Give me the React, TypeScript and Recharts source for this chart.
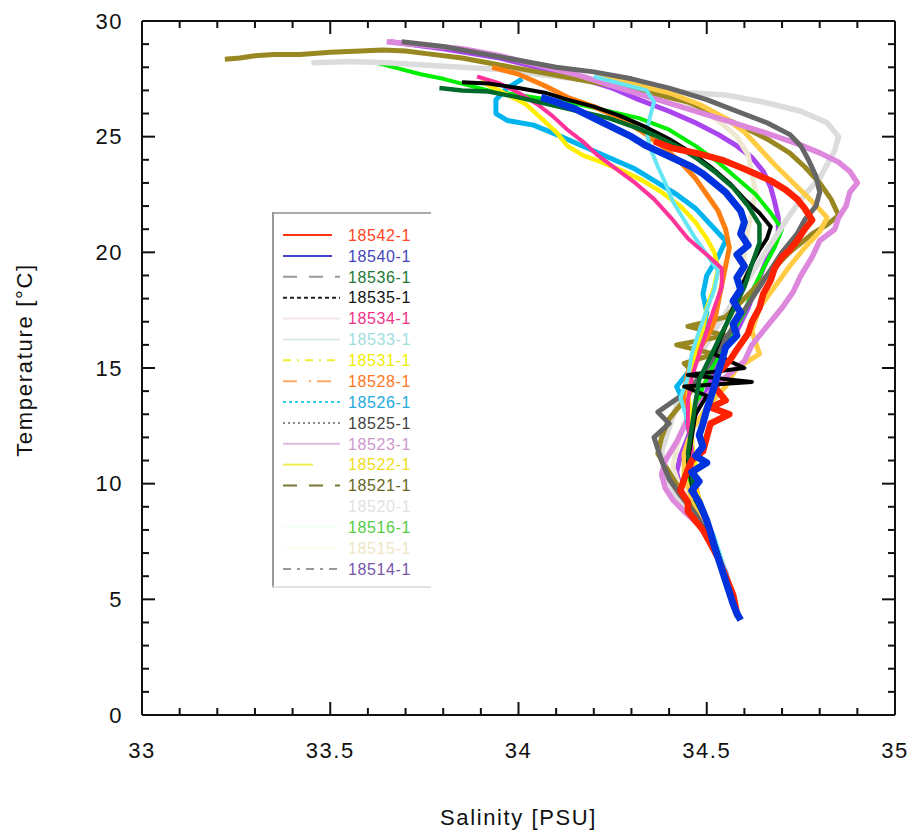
import React from 'react';
import { LineChart, Line, XAxis, YAxis, Legend } from 'recharts';

type P = [number, number];

// Salinity [PSU], Temperature [°C] pairs, surface to depth
const s18542: P[] = [[34.36,24.8],[34.41,24.5],[34.47,24.3],[34.54,24.0],[34.60,23.6],[34.67,23.1],[34.71,22.7],[34.74,22.3],[34.76,21.9],[34.78,21.4],[34.76,21.0],[34.74,20.5],[34.72,20.1],[34.70,19.8],[34.68,19.3],[34.67,18.8],[34.65,18.2],[34.64,17.6],[34.62,17.0],[34.61,16.5],[34.58,15.8],[34.56,15.3],[34.53,14.8],[34.52,14.2],[34.55,13.6],[34.51,13.3],[34.56,13.0],[34.51,12.6],[34.50,12.0],[34.49,11.4],[34.46,11.0],[34.45,10.6],[34.44,10.2],[34.43,9.7],[34.45,9.2],[34.45,8.8],[34.47,8.4],[34.49,8.0],[34.51,7.4],[34.53,6.8],[34.55,6.0],[34.57,5.2],[34.58,4.4]];
const s18540: P[] = [[34.06,26.7],[34.10,26.5],[34.15,26.2],[34.20,25.8],[34.25,25.4],[34.30,25.0],[34.34,24.6],[34.38,24.3],[34.42,24.0],[34.46,23.7],[34.49,23.4],[34.52,23.0],[34.55,22.6],[34.57,22.2],[34.59,21.8],[34.60,21.3],[34.59,20.8],[34.61,20.3],[34.58,19.9],[34.60,19.4],[34.58,18.9],[34.59,18.4],[34.57,17.9],[34.59,17.4],[34.57,16.9],[34.58,16.4],[34.55,15.9],[34.54,15.3],[34.53,14.8],[34.52,14.2],[34.51,13.7],[34.50,13.2],[34.49,12.6],[34.48,12.1],[34.49,11.6],[34.47,11.2],[34.50,10.9],[34.46,10.5],[34.48,10.1],[34.46,9.7],[34.48,9.2],[34.49,8.8],[34.50,8.4],[34.51,7.9],[34.52,7.3],[34.53,6.8],[34.54,6.3],[34.55,5.8],[34.56,5.3],[34.57,4.8],[34.58,4.4],[34.59,4.1]];
const s18536: P[] = [[33.79,27.1],[33.85,27.0],[33.92,26.95],[34.00,26.7],[34.08,26.4],[34.16,26.1],[34.24,25.8],[34.31,25.4],[34.37,25.0],[34.42,24.6],[34.47,24.1],[34.52,23.5],[34.57,22.8],[34.61,22.0],[34.64,21.2],[34.64,20.4],[34.62,19.5],[34.60,18.5],[34.57,17.5],[34.54,16.5],[34.51,15.5],[34.48,14.5],[34.47,13.5],[34.46,12.4],[34.45,11.3],[34.46,10.3],[34.47,9.3],[34.50,8.4],[34.52,7.4],[34.54,6.4],[34.56,5.4],[34.58,4.3]];
const s18535: P[] = [[33.85,27.35],[33.92,27.3],[34.00,27.1],[34.07,26.9],[34.13,26.6],[34.20,26.3],[34.27,25.9],[34.34,25.4],[34.40,24.9],[34.46,24.3],[34.51,23.7],[34.56,23.0],[34.60,22.3],[34.64,21.7],[34.67,21.1],[34.66,20.6],[34.64,20.1],[34.62,19.5],[34.60,18.8],[34.58,18.0],[34.56,17.2],[34.54,16.4],[34.52,15.6],[34.60,15.0],[34.45,14.7],[34.62,14.4],[34.44,14.2],[34.50,13.8],[34.47,13.0],[34.46,12.0],[34.45,11.0],[34.46,10.0],[34.48,9.0],[34.51,8.0],[34.53,7.0],[34.55,6.0],[34.57,5.0],[34.58,4.3]];
const s18534: P[] = [[33.89,27.6],[33.95,27.3],[34.00,26.9],[34.05,26.4],[34.09,25.9],[34.13,25.3],[34.17,24.8],[34.21,24.2],[34.26,23.6],[34.31,23.0],[34.36,22.3],[34.41,21.4],[34.45,20.6],[34.50,19.9],[34.54,19.3],[34.54,18.5],[34.52,17.6],[34.50,16.6],[34.48,15.6],[34.46,14.6],[34.45,13.6],[34.45,12.5],[34.46,11.5],[34.46,10.5],[34.47,9.6],[34.49,8.7],[34.51,7.8],[34.53,6.8],[34.55,5.8],[34.57,4.8],[34.58,4.3]];
const s18533: P[] = [[34.20,27.6],[34.27,27.3],[34.34,27.0],[34.36,26.5],[34.35,25.9],[34.34,25.2],[34.35,24.5],[34.37,23.7],[34.39,23.0],[34.41,22.2],[34.44,21.4],[34.47,20.6],[34.50,19.9],[34.53,19.2],[34.52,18.4],[34.50,17.5],[34.48,16.6],[34.46,15.6],[34.45,14.6],[34.43,13.7],[34.45,12.7],[34.46,11.6],[34.46,10.5],[34.47,9.6],[34.49,8.7],[34.52,7.7],[34.54,6.7],[34.56,5.7],[34.58,4.5]];
const s18531: P[] = [[33.90,27.4],[33.96,26.9],[34.02,26.4],[34.06,25.8],[34.10,25.2],[34.13,24.6],[34.17,24.2],[34.22,23.9],[34.28,23.5],[34.33,23.1],[34.38,22.6],[34.43,22.0],[34.47,21.3],[34.50,20.6],[34.52,20.0],[34.53,19.3],[34.52,18.5],[34.50,17.6],[34.49,16.7],[34.47,15.8],[34.46,14.8],[34.45,13.8],[34.46,12.8],[34.46,11.8],[34.47,10.8],[34.47,9.8],[34.49,8.9],[34.51,7.9],[34.53,6.9],[34.55,5.9],[34.57,4.9],[34.58,4.3]];
const s18528: P[] = [[33.93,28.0],[34.00,27.7],[34.07,27.2],[34.13,26.7],[34.20,26.3],[34.27,25.8],[34.33,25.2],[34.38,24.6],[34.43,23.9],[34.47,23.2],[34.50,22.5],[34.53,21.8],[34.55,21.0],[34.56,20.2],[34.55,19.4],[34.54,18.6],[34.53,17.8],[34.52,17.0],[34.50,16.3],[34.47,15.6],[34.45,14.8],[34.44,14.0],[34.45,13.0],[34.46,12.0],[34.46,11.0],[34.47,10.0],[34.48,9.2],[34.50,8.3],[34.52,7.4],[34.54,6.4],[34.56,5.4],[34.58,4.3]];
const s18526: P[] = [[34.01,27.5],[33.97,27.1],[33.94,26.6],[33.94,26.0],[33.97,25.7],[34.04,25.5],[34.10,25.1],[34.17,24.6],[34.24,24.1],[34.31,23.6],[34.37,23.0],[34.42,22.5],[34.47,21.9],[34.51,21.2],[34.55,20.5],[34.53,19.8],[34.50,19.0],[34.49,18.2],[34.50,17.4],[34.49,16.6],[34.47,15.8],[34.46,15.0],[34.42,14.2],[34.44,13.5],[34.45,12.6],[34.46,11.6],[34.46,10.6],[34.47,9.7],[34.49,8.8],[34.51,7.9],[34.53,6.9],[34.55,5.9],[34.57,4.9],[34.58,4.3]];
const s18525: P[] = [[33.69,29.1],[33.80,28.9],[33.90,28.6],[34.00,28.3],[34.10,28.0],[34.20,27.8],[34.30,27.5],[34.40,27.1],[34.50,26.6],[34.58,26.1],[34.66,25.6],[34.72,25.1],[34.75,24.6],[34.77,24.0],[34.79,23.3],[34.80,22.6],[34.79,22.0],[34.76,21.4],[34.74,20.8],[34.70,20.0],[34.66,19.0],[34.62,18.0],[34.58,17.0],[34.54,16.0],[34.50,15.0],[34.45,14.0],[34.37,13.1],[34.40,12.6],[34.36,12.0],[34.38,11.0],[34.40,10.2],[34.43,9.5],[34.47,8.7],[34.51,7.6],[34.54,6.5],[34.56,5.5],[34.58,4.4]];
const s18523: P[] = [[33.65,29.1],[33.75,28.95],[33.85,28.8],[33.95,28.5],[34.05,28.1],[34.15,27.7],[34.25,27.2],[34.35,26.7],[34.45,26.2],[34.55,25.7],[34.65,25.2],[34.74,24.7],[34.80,24.3],[34.85,23.9],[34.88,23.5],[34.90,23.0],[34.88,22.6],[34.87,22.0],[34.85,21.5],[34.84,21.0],[34.80,20.5],[34.78,19.8],[34.75,19.0],[34.73,18.3],[34.70,17.6],[34.66,16.8],[34.62,16.0],[34.60,15.3],[34.55,14.6],[34.50,13.8],[34.45,12.8],[34.42,11.8],[34.39,11.0],[34.38,10.4],[34.39,9.8],[34.41,9.3],[34.44,8.8],[34.48,8.2],[34.51,7.5],[34.53,6.8],[34.55,6.0],[34.57,5.0],[34.58,4.3]];
const s18522: P[] = [[34.20,27.6],[34.30,27.3],[34.40,26.9],[34.48,26.4],[34.55,25.8],[34.60,25.2],[34.64,24.5],[34.68,23.8],[34.73,23.0],[34.78,22.2],[34.82,21.5],[34.80,20.9],[34.76,20.2],[34.72,19.4],[34.68,18.5],[34.64,17.6],[34.62,16.6],[34.64,15.6],[34.58,15.0],[34.55,14.2],[34.50,13.3],[34.46,12.3],[34.44,11.3],[34.44,10.3],[34.46,9.4],[34.49,8.5],[34.52,7.5],[34.54,6.5],[34.56,5.5],[34.58,4.3]];
const s18521: P[] = [[33.22,28.35],[33.26,28.4],[33.30,28.5],[33.35,28.55],[33.42,28.55],[33.50,28.65],[33.58,28.7],[33.64,28.75],[33.70,28.7],[33.75,28.6],[33.85,28.4],[33.95,28.1],[34.05,27.8],[34.15,27.5],[34.25,27.2],[34.35,26.9],[34.45,26.5],[34.52,26.0],[34.60,25.4],[34.66,24.9],[34.72,24.3],[34.76,23.7],[34.80,23.0],[34.83,22.3],[34.85,21.6],[34.82,21.2],[34.78,20.8],[34.72,20.0],[34.66,19.0],[34.60,18.0],[34.55,17.2],[34.45,16.8],[34.55,16.4],[34.42,16.0],[34.52,15.6],[34.44,15.2],[34.48,14.6],[34.45,13.8],[34.40,12.8],[34.38,12.0],[34.37,11.3],[34.40,10.5],[34.43,9.7],[34.46,9.0],[34.50,8.0],[34.53,7.0],[34.55,6.0],[34.57,5.0],[34.58,4.3]];
const s18520: P[] = [[33.45,28.2],[33.55,28.25],[33.65,28.2],[33.75,28.1],[33.85,28.0],[33.95,27.9],[34.05,27.7],[34.15,27.5],[34.25,27.3],[34.35,27.1],[34.45,26.9],[34.55,26.8],[34.65,26.5],[34.75,26.1],[34.82,25.6],[34.85,25.0],[34.84,24.4],[34.82,23.8],[34.80,23.2],[34.76,22.5],[34.72,21.6],[34.68,20.6],[34.64,19.6],[34.60,18.6],[34.56,17.6],[34.52,16.6],[34.48,15.5],[34.45,14.4],[34.42,13.4],[34.40,12.4],[34.38,11.4],[34.39,10.5],[34.41,9.7],[34.44,9.0],[34.48,8.2],[34.51,7.4],[34.54,6.4],[34.56,5.4],[34.58,4.2]];
const s18516: P[] = [[33.62,28.2],[33.68,27.95],[33.74,27.7],[33.80,27.5],[33.86,27.25],[33.92,27.0],[34.00,26.8],[34.08,26.6],[34.16,26.4],[34.24,26.1],[34.32,25.8],[34.40,25.3],[34.47,24.6],[34.53,23.9],[34.58,23.2],[34.63,22.5],[34.67,21.7],[34.70,21.0],[34.68,20.2],[34.65,19.3],[34.62,18.3],[34.60,17.4],[34.56,16.3],[34.52,15.2],[34.49,14.2],[34.47,13.2],[34.46,12.2],[34.44,11.2],[34.45,10.2],[34.46,9.4],[34.49,8.5],[34.52,7.5],[34.54,6.5],[34.56,5.5],[34.58,4.4]];
const s18515: P[] = [[34.25,27.5],[34.32,27.2],[34.40,26.8],[34.47,26.3],[34.53,25.7],[34.58,25.0],[34.61,24.2],[34.62,23.4],[34.63,22.6],[34.62,21.8],[34.61,21.0],[34.60,20.2],[34.60,19.3],[34.59,18.4],[34.58,17.5],[34.56,16.6],[34.53,15.6],[34.50,14.6],[34.47,13.6],[34.44,12.6],[34.42,11.6],[34.41,10.7],[34.43,9.8],[34.46,9.0],[34.50,8.0],[34.53,7.0],[34.55,6.0],[34.57,5.0],[34.58,4.3]];
const s18514: P[] = [[33.66,29.1],[33.80,28.8],[33.95,28.4],[34.05,28.0],[34.15,27.6],[34.25,27.1],[34.32,26.6],[34.40,26.1],[34.47,25.6],[34.53,25.1],[34.58,24.6],[34.62,24.1],[34.65,23.5],[34.67,22.8],[34.68,22.2],[34.69,21.5],[34.69,20.8],[34.67,20.1],[34.65,19.3],[34.63,18.5],[34.61,17.6],[34.58,16.6],[34.55,15.8],[34.52,15.0],[34.50,14.0],[34.47,13.0],[34.45,12.0],[34.43,11.2],[34.42,10.5],[34.43,9.8],[34.46,9.0],[34.49,8.2],[34.52,7.2],[34.55,6.2],[34.57,5.0],[34.58,4.3]];

const names = ['18542-1','18540-1','18536-1','18535-1','18534-1','18533-1','18531-1','18528-1','18526-1','18525-1','18523-1','18522-1','18521-1','18520-1','18516-1','18515-1','18514-1'];
const profiles: P[][] = [s18542,s18540,s18536,s18535,s18534,s18533,s18531,s18528,s18526,s18525,s18523,s18522,s18521,s18520,s18516,s18515,s18514];
const plotColors = ['#ff2200','#0033dd','#006a2a','#000000','#ff3399','#66e6f5','#ffee00','#ff8010','#00b4ee','#666666','#dd88dd','#ffcc44','#998822','#dcdcdc','#00ee00','#eee8d0','#aa44ee'];
const textColors = ['#ff4422','#4444bb','#227733','#111111','#ee3388','#a0dede','#eeee00','#ff7722','#22aadd','#444444','#cc99cc','#eedd22','#666622','#e2e2e2','#55cc44','#eee6c6','#7755aa'];
const legendStrokes = ['#ff3311','#4444cc','#999999','#222222','#f4e8ee','#dde8ea','#eeee33','#ffaa66','#33ccee','#888888','#ddbbdd','#eeee55','#777733','#ffffff','#f4fff4','#fffcf2','#999999'];
const legendDashes = ['', '', '14 12', '4 3', '', '', '8 6 2 6', '14 12 2 6', '3 3', '2 3', '', '30 40', '14 12', '', '', '', '8 6 3 6'];
const widths = [6.5, 7, 4.5, 4, 4, 4, 4.5, 5, 5, 5, 5.5, 5, 5, 5.5, 4, 5, 5];

const xTicks = [33,33.1,33.2,33.3,33.4,33.5,33.6,33.7,33.8,33.9,34,34.1,34.2,34.3,34.4,34.5,34.6,34.7,34.8,34.9,35];
const yTicks = [0,1,2,3,4,5,6,7,8,9,10,11,12,13,14,15,16,17,18,19,20,21,22,23,24,25,26,27,28,29,30];

const FONT = '"Liberation Sans", Arial, Helvetica, sans-serif';
const INK = '#111';
const X_MARGIN = 27;
const Y_MARGIN = 19;

const isMajor = (v: number, step: number) => Math.abs(v / step - Math.round(v / step)) < 1e-6;

const BottomTick = (props: any) => {
  const { x, y, payload } = props;
  const v = payload.value;
  const major = isMajor(v, 0.5);
  const y0 = y - X_MARGIN;
  return (
    <g>
      <line x1={x} x2={x} y1={y0} y2={y0 - (major ? 13 : 7)} stroke={INK} strokeWidth={2} />
      {major && (
        <text x={x} y={y} dy="0.71em" textAnchor="middle" fill={INK} fontSize={22} letterSpacing={1.5} fontFamily={FONT}>{String(v)}</text>
      )}
    </g>
  );
};
const LeftTick = (props: any) => {
  const { x, y, payload } = props;
  const v = payload.value;
  const major = isMajor(v, 5);
  const x0 = x + Y_MARGIN;
  return (
    <g>
      <line x1={x0} x2={x0 + (major ? 13 : 7)} y1={y} y2={y} stroke={INK} strokeWidth={2} />
      {major && (
        <text x={x} y={y} dy="0.355em" textAnchor="end" fill={INK} fontSize={22} letterSpacing={1.5} fontFamily={FONT}>{String(v)}</text>
      )}
    </g>
  );
};
const TopTick = (props: any) => {
  const { x, y, payload } = props;
  const major = isMajor(payload.value, 0.5);
  return <line x1={x} x2={x} y1={y} y2={y + (major ? 13 : 7)} stroke={INK} strokeWidth={2} />;
};
const RightTick = (props: any) => {
  const { x, y, payload } = props;
  const major = isMajor(payload.value, 5);
  return <line x1={x} x2={x - (major ? 13 : 7)} y1={y} y2={y} stroke={INK} strokeWidth={2} />;
};

const XTitle = (props: any) => {
  const vb = props.viewBox || { x: 142, y: 715, width: 753, height: 60 };
  return (
    <text x={vb.x + vb.width / 2} y={vb.y + vb.height + 34} dy="0.71em" textAnchor="middle" fill={INK} fontSize={22} letterSpacing={1.6} fontFamily={FONT}>Salinity [PSU]</text>
  );
};
const YTitle = (props: any) => {
  const vb = props.viewBox || { x: 82, y: 21, width: 60, height: 694 };
  const cx = vb.x - 58;
  const cy = vb.y + vb.height / 2 - 8;
  return (
    <text x={cx} y={cy} dy="0.355em" textAnchor="middle" transform={`rotate(-90, ${cx}, ${cy})`} fill={INK} fontSize={22} letterSpacing={1.7} fontFamily={FONT}>Temperature [°C]</text>
  );
};

const LegendBox = () => (
  <svg width={162} height={378} style={{ display: 'block', overflow: 'visible' }}>
    <rect x={0} y={0} width={160} height={376} fill="#ffffff" />
    <line x1={0} y1={1} x2={159} y2={1} stroke="#aaaaaa" strokeWidth={2} />
    <line x1={1} y1={0} x2={1} y2={376} stroke="#999999" strokeWidth={2} />
    <line x1={0} y1={375} x2={159} y2={375} stroke="#d8d8d8" strokeWidth={1.5} />
    {names.map((n, i) => {
      const y = 23 + i * 20.875;
      return (
        <g key={n}>
          <line x1={11} x2={i < 2 ? 60 : 68} y1={y} y2={y} stroke={legendStrokes[i]} strokeWidth={2} strokeDasharray={legendDashes[i] || undefined} />
          <text x={76} y={y} dy="0.36em" fill={textColors[i]} fontSize={16} letterSpacing={0.6} fontFamily={FONT}>{n}</text>
        </g>
      );
    })}
  </svg>
);

const toData = (p: P[]) => p.map(([s, t]) => ({ s, t }));
const drawOrder = [16, 15, 14, 13, 12, 11, 10, 9, 8, 7, 6, 5, 4, 3, 2, 0, 1];

export default function App() {
  return (
    <div style={{ position: 'absolute', left: 0, top: 0, width: 909, height: 834, background: '#fff', fontFamily: FONT }}>
      <LineChart width={909} height={834} margin={{ top: 21, right: 14, left: 82, bottom: 59 }}>
        <XAxis xAxisId="b" type="number" dataKey="s" domain={[33, 35]} ticks={xTicks} interval={0} allowDataOverflow
          height={60} tickSize={0} tickMargin={X_MARGIN} tickLine={false} axisLine={{ stroke: INK, strokeWidth: 2 }}
          tick={<BottomTick />} label={<XTitle />} />
        <XAxis xAxisId="t" orientation="top" mirror type="number" dataKey="s" domain={[33, 35]} ticks={xTicks} interval={0} allowDataOverflow
          height={1} tickSize={0} tickMargin={0} tickLine={false} axisLine={{ stroke: INK, strokeWidth: 2 }} tick={<TopTick />} />
        <YAxis yAxisId="l" type="number" dataKey="t" domain={[0, 30]} ticks={yTicks} interval={0} allowDataOverflow
          width={60} tickSize={0} tickMargin={Y_MARGIN} tickLine={false} axisLine={{ stroke: INK, strokeWidth: 2 }}
          tick={<LeftTick />} label={<YTitle />} />
        <YAxis yAxisId="r" orientation="right" mirror type="number" dataKey="t" domain={[0, 30]} ticks={yTicks} interval={0} allowDataOverflow
          width={1} tickSize={0} tickMargin={0} tickLine={false} axisLine={{ stroke: INK, strokeWidth: 2 }} tick={<RightTick />} />
        {drawOrder.map((i) => (
          <Line key={names[i]} name={names[i]} xAxisId="b" yAxisId="l" data={toData(profiles[i])} dataKey="t"
            type="linear" stroke={plotColors[i]} strokeWidth={widths[i]} dot={false} activeDot={false}
            strokeLinejoin="round" isAnimationActive={false} />
        ))}
        <Legend layout="vertical" align="center" verticalAlign="middle" content={() => <LegendBox />}
          wrapperStyle={{ position: 'absolute', left: 272, top: 212, bottom: 'auto', right: 'auto', width: 162, height: 378 }} />
      </LineChart>
    </div>
  );
}
